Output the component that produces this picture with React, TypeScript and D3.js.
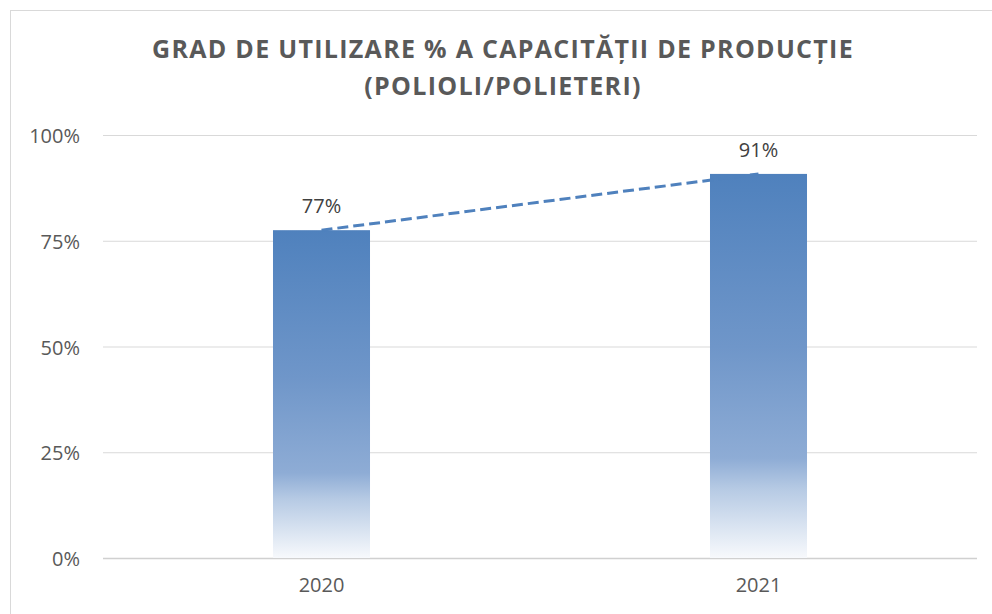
import { useEffect, useRef } from 'react'
import * as d3 from 'd3'

const years = ['2020', '2021']
const utilisation = [0.775, 0.908]
const valueLabels = ['77%', '91%']
const yTicks = [0, 0.25, 0.5, 0.75, 1]
const titleLines = ['GRAD DE UTILIZARE % A CAPACITĂȚII DE PRODUCȚIE', '(POLIOLI/POLIETERI)']

const W = 992
const H = 614

export default function App() {
  const svgRef = useRef<SVGSVGElement>(null)

  useEffect(() => {
    document.body.style.margin = '0'
    const svg = d3.select(svgRef.current)
    svg.selectAll('*').remove()

    const left = 103
    const right = 977
    const top = 135
    const bottom = 558

    const x = d3.scaleBand().domain(years).range([left, right]).paddingInner(0.778).paddingOuter(0.389)
    const y = d3.scaleLinear().domain([0, 1]).range([bottom, top])

    // chart border (cut off on the right and bottom)
    svg.append('rect')
      .attr('x', 10.5).attr('y', 10.5)
      .attr('width', W + 20).attr('height', H + 20)
      .attr('fill', 'white')
      .attr('stroke', '#d9d9d9')

    // gradient for the bars
    const grad = svg.append('defs')
      .append('linearGradient')
      .attr('id', 'barGrad')
      .attr('x1', 0).attr('y1', 0).attr('x2', 0).attr('y2', 1)
    grad.selectAll('stop')
      .data([
        { o: 0, c: '#4f81bd' },
        { o: 0.45, c: '#6f96c9' },
        { o: 0.74, c: '#8eacd5' },
        { o: 0.82, c: '#b6cae4' },
        { o: 1, c: '#f7f9fc' }
      ])
      .join('stop')
      .attr('offset', d => d.o)
      .attr('stop-color', d => d.c)

    // title
    svg.append('g')
      .selectAll('text')
      .data(titleLines)
      .join('text')
      .attr('x', 503)
      .attr('y', (_, i) => 58 + i * 37)
      .attr('text-anchor', 'middle')
      .attr('font-family', 'Open Sans, sans-serif')
      .attr('font-weight', 'bold')
      .attr('font-size', 25)
      .attr('letter-spacing', 1.3)
      .attr('fill', '#595959')
      .text(d => d)

    // gridlines
    const grid = d3.axisLeft(y).tickValues(yTicks).tickSize(-(right - left)).tickFormat(() => '')
    const g = svg.append('g').attr('transform', `translate(${left},0)`).call(grid)
    g.select('.domain').remove()
    g.selectAll('.tick line')
      .attr('stroke', (d: any) => (d === 0 ? '#d0d0d0' : '#d9d9d9'))
      .attr('stroke-width', (d: any) => (d === 0 ? 1.5 : 1))

    // y tick labels
    svg.append('g')
      .selectAll('text')
      .data(yTicks)
      .join('text')
      .attr('x', 80)
      .attr('y', d => y(d) + 8)
      .attr('text-anchor', 'end')
      .attr('font-family', 'Open Sans, sans-serif')
      .attr('font-size', 20)
      .attr('fill', '#595959')
      .text(d => `${Math.round(d * 100)}%`)

    // bars
    svg.append('g')
      .selectAll('rect')
      .data(utilisation)
      .join('rect')
      .attr('x', (_, i) => x(years[i])!)
      .attr('y', d => y(d))
      .attr('width', x.bandwidth())
      .attr('height', d => bottom - y(d))
      .attr('fill', 'url(#barGrad)')

    // dashed trend line between bar tops
    const line = d3.line<number>()
      .x((_, i) => x(years[i])! + x.bandwidth() / 2)
      .y(d => y(d))
    svg.append('path')
      .datum(utilisation)
      .attr('d', line)
      .attr('fill', 'none')
      .attr('stroke', '#4f81bd')
      .attr('stroke-width', 3)
      .attr('stroke-dasharray', '11 5')

    // value labels
    svg.append('g')
      .selectAll('text')
      .data(utilisation)
      .join('text')
      .attr('x', (_, i) => x(years[i])! + x.bandwidth() / 2)
      .attr('y', d => y(d) - 17)
      .attr('text-anchor', 'middle')
      .attr('font-family', 'Open Sans, sans-serif')
      .attr('font-size', 20)
      .attr('fill', '#404040')
      .text((_, i) => valueLabels[i])

    // x labels
    svg.append('g')
      .selectAll('text')
      .data(years)
      .join('text')
      .attr('x', d => x(d)! + x.bandwidth() / 2)
      .attr('y', 592)
      .attr('text-anchor', 'middle')
      .attr('font-family', 'Open Sans, sans-serif')
      .attr('font-size', 20)
      .attr('fill', '#595959')
      .text(d => d)
  }, [])

  return <svg ref={svgRef} width={W} height={H} style={{ display: 'block' }} />
}
